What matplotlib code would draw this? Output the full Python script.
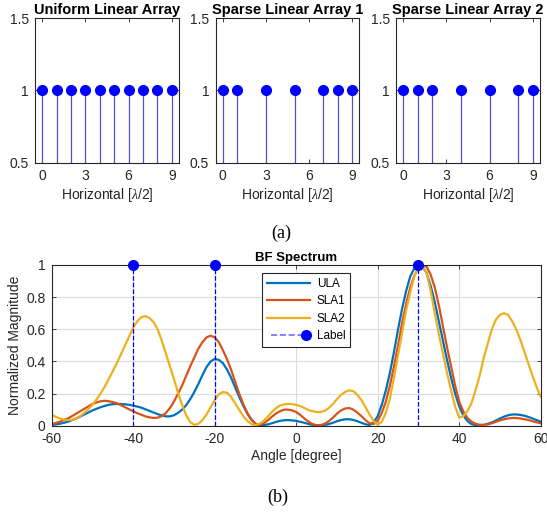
import numpy as np
import matplotlib
matplotlib.use("Agg")
import matplotlib.pyplot as plt
from matplotlib.lines import Line2D
from matplotlib.legend_handler import HandlerLine2D

plt.rcParams['font.family'] = ['Liberation Sans', 'DejaVu Sans']
plt.rcParams['mathtext.fontset'] = 'custom'
plt.rcParams['mathtext.it'] = 'Liberation Serif:italic'
plt.rcParams['axes.unicode_minus'] = False

# array layouts (element positions in half wavelengths)
ula_pos = [0, 1, 2, 3, 4, 5, 6, 7, 8, 9]
sla1_pos = [0, 1, 3, 5, 7, 8, 9]
sla2_pos = [0, 1, 2, 4, 6, 8, 9]
array_titles = ['Uniform Linear Array', 'Sparse Linear Array 1', 'Sparse Linear Array 2']

# BF spectrum, one value per degree from -60 to 60
angles = np.arange(-60, 61)
ula = [0.005, 0.008, 0.012, 0.018, 0.025, 0.035, 0.045, 0.057, 0.07, 0.082,
       0.095, 0.105, 0.115, 0.123, 0.13, 0.134, 0.135, 0.135, 0.133, 0.13,
       0.125, 0.119, 0.112, 0.102, 0.092, 0.082, 0.072, 0.064, 0.058, 0.058,
       0.065, 0.08, 0.10, 0.128, 0.165, 0.21, 0.26, 0.315, 0.365, 0.40,
       0.415, 0.41, 0.39, 0.35, 0.30, 0.24, 0.18, 0.125, 0.075, 0.038,
       0.012, 0.003, 0.004, 0.008, 0.015, 0.023, 0.03, 0.034, 0.035, 0.033,
       0.03, 0.024, 0.018, 0.011, 0.005, 0.002, 0.002, 0.005, 0.01, 0.018,
       0.028, 0.035, 0.04, 0.04, 0.036, 0.028, 0.018, 0.009, 0.004, 0.02,
       0.06, 0.13, 0.22, 0.33, 0.46, 0.60, 0.73, 0.84, 0.93, 0.98,
       1.0, 0.99, 0.95, 0.87, 0.77, 0.65, 0.53, 0.41, 0.30, 0.20,
       0.12, 0.065, 0.03, 0.01, 0.004, 0.002, 0.005, 0.012, 0.02, 0.032,
       0.045, 0.056, 0.065, 0.07, 0.07, 0.067, 0.062, 0.054, 0.045, 0.035,
       0.025]
sla1 = [0.01, 0.017, 0.025, 0.035, 0.045, 0.06, 0.075, 0.09, 0.105, 0.12,
        0.135, 0.145, 0.152, 0.155, 0.152, 0.147, 0.14, 0.128, 0.115, 0.102,
        0.09, 0.078, 0.068, 0.058, 0.052, 0.048, 0.05, 0.06, 0.078, 0.11,
        0.15, 0.20, 0.25, 0.31, 0.37, 0.425, 0.48, 0.52, 0.55, 0.56,
        0.55, 0.52, 0.47, 0.415, 0.35, 0.275, 0.20, 0.135, 0.08, 0.038,
        0.012, 0.006, 0.015, 0.032, 0.055, 0.075, 0.09, 0.10, 0.10, 0.095,
        0.085, 0.067, 0.045, 0.025, 0.01, 0.003, 0.004, 0.012, 0.028, 0.05,
        0.075, 0.095, 0.107, 0.11, 0.10, 0.082, 0.06, 0.035, 0.015, 0.01,
        0.03, 0.08, 0.15, 0.25, 0.37, 0.50, 0.64, 0.76, 0.86, 0.935,
        0.98, 1.0, 0.99, 0.94, 0.86, 0.75, 0.62, 0.49, 0.37, 0.25,
        0.15, 0.09, 0.05, 0.025, 0.012, 0.006, 0.005, 0.008, 0.015, 0.024,
        0.033, 0.04, 0.045, 0.048, 0.048, 0.045, 0.04, 0.035, 0.028, 0.021,
        0.015]
sla2 = [0.068, 0.055, 0.045, 0.038, 0.035, 0.037, 0.045, 0.06, 0.08, 0.103,
        0.13, 0.163, 0.20, 0.243, 0.29, 0.34, 0.39, 0.445, 0.50, 0.555,
        0.61, 0.65, 0.675, 0.682, 0.67, 0.645, 0.60, 0.53, 0.45, 0.37,
        0.29, 0.205, 0.13, 0.065, 0.022, 0.005, 0.012, 0.035, 0.07, 0.115,
        0.16, 0.195, 0.21, 0.205, 0.18, 0.14, 0.10, 0.06, 0.03, 0.01,
        0.003, 0.012, 0.03, 0.055, 0.085, 0.108, 0.125, 0.133, 0.135, 0.134,
        0.13, 0.122, 0.11, 0.098, 0.09, 0.085, 0.085, 0.093, 0.11, 0.135,
        0.165, 0.192, 0.21, 0.22, 0.215, 0.192, 0.16, 0.115, 0.07, 0.03,
        0.005, 0.025, 0.08, 0.17, 0.30, 0.44, 0.58, 0.72, 0.83, 0.93,
        0.99, 0.99, 0.95, 0.84, 0.70, 0.57, 0.45, 0.33, 0.22, 0.12,
        0.05, 0.06, 0.09, 0.14, 0.22, 0.31, 0.42, 0.51, 0.60, 0.66,
        0.69, 0.70, 0.69, 0.65, 0.60, 0.535, 0.46, 0.385, 0.31, 0.24,
        0.18]
label_angles = [-40, -20, 30]
label_vals = [1, 1, 1]


class RightMarkerHandler(HandlerLine2D):
    # MATLAB style legend entry: dashed line with the marker at its right end
    def create_artists(self, *args, **kwargs):
        arts = super().create_artists(*args, **kwargs)
        for a in arts:
            a.set_markevery([len(a.get_xdata()) - 1])
        return arts


fig = plt.figure(figsize=(5.47, 5.12), dpi=100)
txt = '#262626'

# (a) array layouts
lefts = [35/547, 215.5/547, 396/547]
for left, pos, title in zip(lefts, [ula_pos, sla1_pos, sla2_pos], array_titles):
    ax = fig.add_axes([left, 1 - 162.7/512, 144/547, 144.4/512])
    ml, sl, bl = ax.stem(pos, np.ones(len(pos)), linefmt='-', markerfmt='o', basefmt=' ')
    plt.setp(sl, color='#5050c8', linewidth=0.9)
    plt.setp(ml, color='#0000ff', markersize=7, clip_on=False)
    ax.set_xlim(-0.5, 9.5)
    ax.set_ylim(0.5, 1.5)
    ax.set_xticks([0, 3, 6, 9])
    ax.set_yticks([0.5, 1, 1.5])
    ax.set_yticklabels(['0.5', '1', '1.5'])
    ax.tick_params(direction='in', top=True, right=True, labelsize=10,
                   colors=txt, length=3, width=0.6, pad=4.5)
    for s in ax.spines.values():
        s.set_color(txt)
        s.set_linewidth(0.8)
    ax.set_title(title, fontsize=10.5, fontweight='bold', pad=3)
    ax.set_xlabel(r'Horizontal [$\lambda$/2]', fontsize=10, color=txt, labelpad=2)

fig.text(0.514, 1 - 233/512, '(a)', ha='center', va='center',
         fontsize=13, family='Liberation Serif')

# (b) BF spectrum
ax = fig.add_axes([51.7/547, 1 - 425.7/512, 489/547, 160.7/512])
ax.plot(angles, ula, color='#0072BD', linewidth=1.6, label='ULA')
ax.plot(angles, sla1, color='#D95319', linewidth=1.6, label='SLA1')
ax.plot(angles, sla2, color='#EDB120', linewidth=1.6, label='SLA2')
ax.vlines(label_angles, 0, label_vals, colors='#0000ff', linestyles='--', linewidth=0.9)
ax.plot(label_angles, label_vals, 'o', color='#0000ff', markersize=7, clip_on=False, zorder=5)
ax.set_xlim(-60, 60)
ax.set_ylim(0, 1)
ax.set_xticks(np.arange(-60, 61, 20))
ax.set_yticks([0, 0.2, 0.4, 0.6, 0.8, 1])
ax.set_yticklabels(['0', '0.2', '0.4', '0.6', '0.8', '1'])
ax.grid(True, color='#dcdcdc', linewidth=0.8)
ax.set_axisbelow(True)
ax.tick_params(direction='in', top=True, right=True, labelsize=10,
               colors=txt, length=3, width=0.6, pad=4.5)
for s in ax.spines.values():
    s.set_color(txt)
    s.set_linewidth(0.8)
ax.set_title('BF Spectrum', fontsize=9.5, fontweight='bold', pad=3)
ax.set_xlabel('Angle [degree]', fontsize=10, color=txt, labelpad=2)
ax.set_ylabel('Normalized Magnitude', fontsize=10, color=txt, labelpad=3)

lbl = Line2D([0], [0], color='#7070ff', linestyle='--', linewidth=1.2,
             marker='o', markersize=7, markerfacecolor='#0000ff',
             markeredgecolor='#0000ff')
h, l = ax.get_legend_handles_labels()
leg = ax.legend(h + [lbl], l + ['Label'], loc='upper left',
                bbox_to_anchor=(0.431, 0.948), borderaxespad=0, fontsize=8.5,
                handler_map={lbl: RightMarkerHandler(numpoints=2)},
                handlelength=3.6, handletextpad=0.6,
                labelspacing=0.45, borderpad=0.4, fancybox=False,
                framealpha=1, edgecolor=txt)
leg.get_frame().set_linewidth(0.8)

fig.text(0.508, 1 - 497/512, '(b)', ha='center', va='center',
         fontsize=13, family='Liberation Serif')

fig.savefig('out.png', dpi=100)
